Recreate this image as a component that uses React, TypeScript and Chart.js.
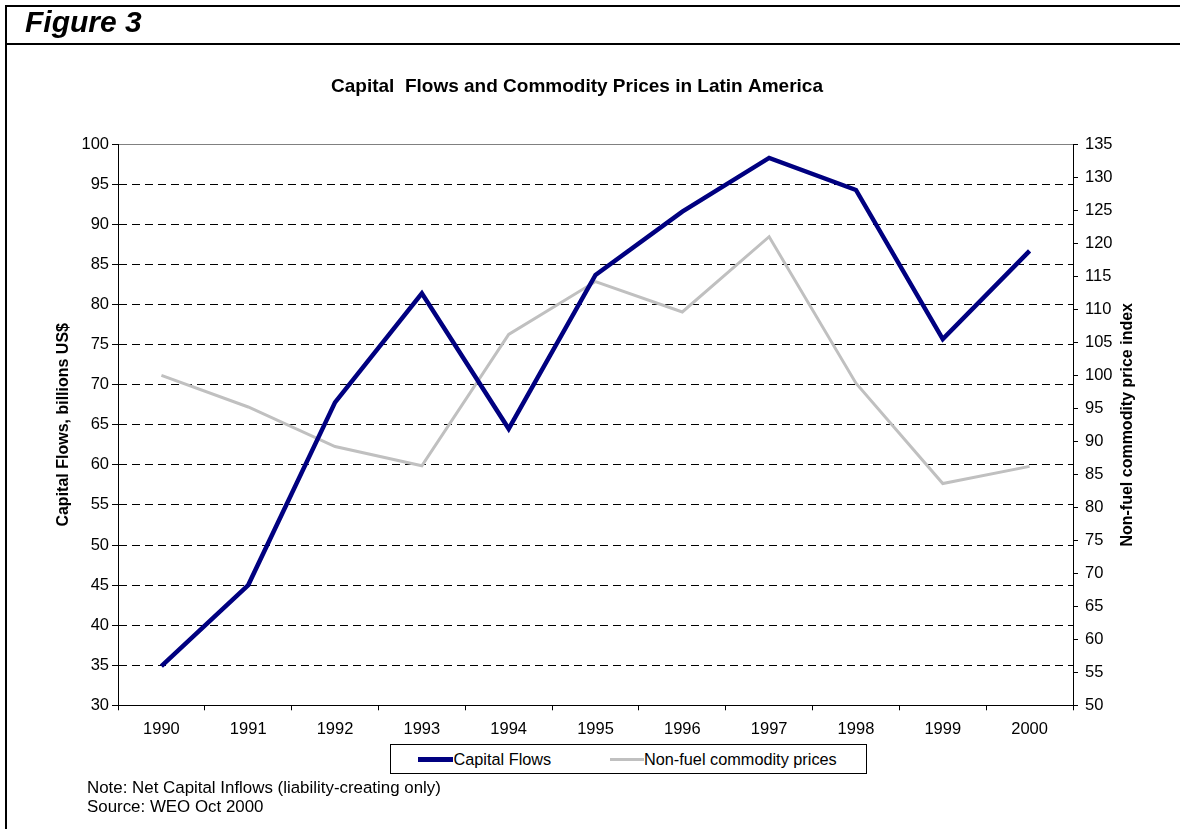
import React, { useEffect, useRef } from "react";
import { Chart, registerables } from "chart.js";

Chart.register(...registerables);

const FONT = "'Liberation Sans', Arial, Helvetica, sans-serif";

// ---- Data ----
const years = ["1990", "1991", "1992", "1993", "1994", "1995", "1996", "1997", "1998", "1999", "2000"];
const capitalFlows = [34.9, 45.0, 67.8, 81.4, 64.5, 83.7, 91.6, 98.3, 94.3, 75.7, 86.7];
const commodityPrices = [100.0, 95.2, 89.2, 86.3, 106.2, 114.2, 109.6, 121.0, 98.8, 83.6, 86.2];
const leftAxisRange = [30, 100];
const rightAxisRange = [50, 135];
const tickStep = 5;

const chartTitle = "Capital  Flows and Commodity Prices in Latin America";
const leftAxisTitle = "Capital Flows, billions US$";
const rightAxisTitle = "Non-fuel commodity price index";
const seriesNames = ["Capital Flows", "Non-fuel commodity prices"];
const seriesColors = ["#000080", "#c0c0c0"];
const noteLines = ["Note: Net Capital Inflows (liability-creating only)", "Source: WEO Oct 2000"];

export default function App() {
  const ref = useRef<HTMLCanvasElement>(null);

  useEffect(() => {
    document.body.style.margin = "0";
    Chart.defaults.font.family = FONT;
    const rightTitlePlugin = {
      id: "rightTitle",
      afterDraw(chart: any) {
        const { ctx, chartArea } = chart;
        const s = chart.scales.y1;
        ctx.save();
        ctx.translate(s.right - 26.5, (chartArea.top + chartArea.bottom) / 2);
        ctx.rotate(-Math.PI / 2);
        ctx.font = `bold 16px ${FONT}`;
        ctx.fillStyle = "#000";
        ctx.textAlign = "center";
        ctx.textBaseline = "middle";
        ctx.fillText(rightAxisTitle, 0, 0);
        ctx.restore();
      },
    };

    const chart = new Chart(ref.current as HTMLCanvasElement, {
      type: "line",
      data: {
        labels: years,
        datasets: [
          {
            label: seriesNames[0],
            data: capitalFlows,
            borderColor: seriesColors[0],
            backgroundColor: seriesColors[0],
            borderWidth: 4.5,
            pointRadius: 0,
            tension: 0,
            yAxisID: "y",
          },
          {
            label: seriesNames[1],
            data: commodityPrices,
            borderColor: seriesColors[1],
            backgroundColor: seriesColors[1],
            borderWidth: 3,
            pointRadius: 0,
            tension: 0,
            yAxisID: "y1",
          },
        ],
      },
      options: {
        responsive: false,
        animation: false,
        devicePixelRatio: 1,
        layout: { padding: { left: 0, right: 26, top: 0, bottom: 0 } },
        plugins: {
          legend: { display: false },
          tooltip: { enabled: false },
          title: {
            display: true,
            text: chartTitle,
            color: "#000",
            font: { size: 19, weight: "bold", family: FONT },
            padding: { top: 75.6, bottom: 45.9 },
          },
        },
        scales: {
          x: {
            type: "category",
            offset: true,
            grid: { offset: true, drawOnChartArea: false, drawTicks: true, tickLength: 5, color: "#000" },
            border: { color: "#000", width: 1 },
            ticks: { color: "#000", font: { size: 16.5 }, padding: 9, maxRotation: 0, autoSkip: false },
            afterFit: (s: any) => {
              s.height = 123.7;
            },
          },
          y: {
            type: "linear",
            position: "left",
            min: leftAxisRange[0],
            max: leftAxisRange[1],
            ticks: { stepSize: tickStep, color: "#000", font: { size: 16.5 }, padding: 3 },
            grid: {
              color: (c: any) => (c.tick && c.tick.value === leftAxisRange[1] ? "#808080" : "#000"),
              tickColor: "#000",
              tickLength: 6,
              lineWidth: 1,
            },
            border: {
              color: "#000",
              width: 1,
              dash: (c: any) => (c.tick && c.tick.value !== leftAxisRange[1] ? [8, 5] : []),
            },
            title: {
              display: true,
              text: leftAxisTitle,
              color: "#000",
              font: { size: 16, weight: "bold" },
              padding: { top: 54, bottom: 0 },
            },
            afterFit: (s: any) => {
              s.width = 118;
            },
          },
          y1: {
            type: "linear",
            position: "right",
            min: rightAxisRange[0],
            max: rightAxisRange[1],
            ticks: { stepSize: tickStep, color: "#000", font: { size: 16.5 }, padding: 7 },
            grid: { drawOnChartArea: false, tickLength: 5, color: "#000" },
            border: { color: "#000", width: 1 },
            afterFit: (s: any) => {
              s.width = 81;
            },
          },
        },
      },
      plugins: [rightTitlePlugin],
    });
    return () => chart.destroy();
  }, []);

  const legendText: React.CSSProperties = {
    position: "absolute",
    top: 0,
    height: 28,
    lineHeight: "28px",
    fontSize: 16.3,
    fontFamily: FONT,
    color: "#000",
    whiteSpace: "nowrap",
  };

  return (
    <div style={{ position: "relative", width: 1180, height: 829, overflow: "hidden", background: "#fff", fontFamily: FONT }}>
      <canvas ref={ref} width={1180} height={829} style={{ position: "absolute", left: 0, top: 0 }} />
      {/* frame */}
      <div style={{ position: "absolute", left: 5, top: 5, width: 1175, height: 2, background: "#000" }} />
      <div style={{ position: "absolute", left: 5, top: 43, width: 1175, height: 2, background: "#000" }} />
      <div style={{ position: "absolute", left: 5, top: 5, width: 2, height: 824, background: "#000" }} />
      <div
        style={{
          position: "absolute",
          left: 25,
          top: 7,
          fontSize: 30,
          lineHeight: "30px",
          fontWeight: "bold",
          fontStyle: "italic",
          fontFamily: FONT,
          color: "#000",
          whiteSpace: "nowrap",
        }}
      >
        Figure 3
      </div>
      {/* legend */}
      <div
        style={{
          position: "absolute",
          left: 390,
          top: 744,
          width: 477,
          height: 30,
          border: "1px solid #000",
          boxSizing: "border-box",
          background: "#fff",
        }}
      >
        <div style={{ position: "absolute", left: 27, top: 12, width: 35, height: 4.5, background: seriesColors[0] }} />
        <div style={{ ...legendText, left: 62.5 }}>{seriesNames[0]}</div>
        <div style={{ position: "absolute", left: 219, top: 13, width: 34, height: 2.5, background: seriesColors[1] }} />
        <div style={{ ...legendText, left: 253 }}>{seriesNames[1]}</div>
      </div>
      {/* notes */}
      <div
        style={{
          position: "absolute",
          left: 87,
          top: 779,
          fontSize: 16.9,
          lineHeight: "18.5px",
          fontFamily: FONT,
          color: "#000",
          whiteSpace: "nowrap",
        }}
      >
        {noteLines.map((t, i) => (
          <div key={i}>{t}</div>
        ))}
      </div>
    </div>
  );
}
